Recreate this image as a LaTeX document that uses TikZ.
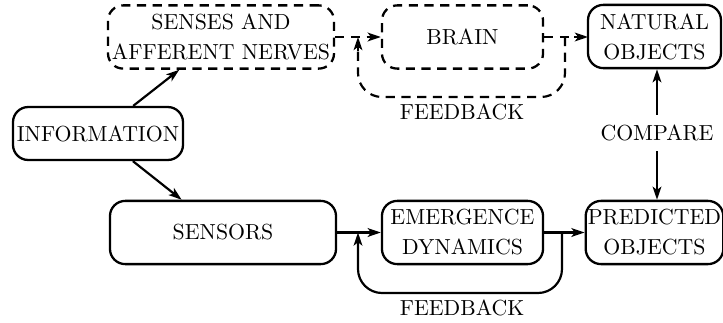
\documentclass[tikz,border=0pt]{standalone}
\usetikzlibrary{arrows.meta,calc}
\begin{document}
\begin{tikzpicture}[x=0.4587pt,y=-0.4587pt,
  box/.style={draw,line width=1.05pt,rounded corners=7pt,align=center,inner sep=1pt,minimum height=29pt},
  dbox/.style={box,dash pattern=on 4.2pt off 3pt},
  conn/.style={line width=1pt,-{Stealth[length=6pt,width=4pt,inset=1.5pt]}},
  dline/.style={line width=1pt,dash pattern=on 4.2pt off 3pt},
  lbl/.style={inner sep=0pt}]
\useasboundingbox (0,0) rectangle (723,322);
\node[dbox,minimum width=103.7pt] (senses) at (221,37) {SENSES AND\\[1.8pt]AFFERENT NERVES};
\node[dbox,minimum width=73.9pt] (brain) at (462.5,37) {BRAIN};
\node[box,minimum width=61pt] (natural) at (654.5,36.5) {NATURAL\\[1.8pt]OBJECTS};
\node[box,minimum width=78pt,minimum height=24.3pt] (info) at (98,133.5) {INFORMATION};
\node[box,minimum width=103.7pt] (sensors) at (223,232.5) {SENSORS};
\node[box,minimum width=73.9pt] (emerg) at (462.5,232.5) {EMERGENCE\\[1.8pt]DYNAMICS};
\node[box,minimum width=61pt] (pred) at (654.5,232.5) {PREDICTED\\[1.8pt]OBJECTS};
\node[inner sep=4.5pt] (cmp) at (657,133) {COMPARE};
\node[lbl] (fb1) at (462,112) {FEEDBACK};
\node[lbl] (fb2) at (462,308) {FEEDBACK};
\coordinate (tr) at (565,37);
\coordinate (tl) at (358,37);
\coordinate (br) at (562,232.5);
\coordinate (bl) at (358,232.5);
\coordinate (nw) at (588,37);
\coordinate (na) at (574,37);
\coordinate (ba) at ($(brain.west)+(-14,0)$);
\coordinate (fa) at ($(tl)+(0,14)$);
\draw[conn] (info) -- (senses);
\draw[conn] (info) -- (sensors);
\draw[dline] (senses.east |- brain.west) -- (ba);
\draw[conn] (ba) -- (brain.west);
\draw[dline] (brain.east) -- (na);
\draw[conn] (na) -- (nw);
\draw[dline,rounded corners=11pt] (tr) -- ++(0,60) -| (fa);
\draw[conn] (fa) -- (tl);
\draw[conn] (sensors) -- (emerg);
\draw[conn] (emerg) -- (pred);
\draw[conn,rounded corners=11pt] (br) -- ++(0,60.5) -| (bl);
\draw[conn] (cmp) -- (cmp |- natural.south);
\draw[conn] (cmp) -- (cmp |- pred.north);
\end{tikzpicture}
\end{document}
